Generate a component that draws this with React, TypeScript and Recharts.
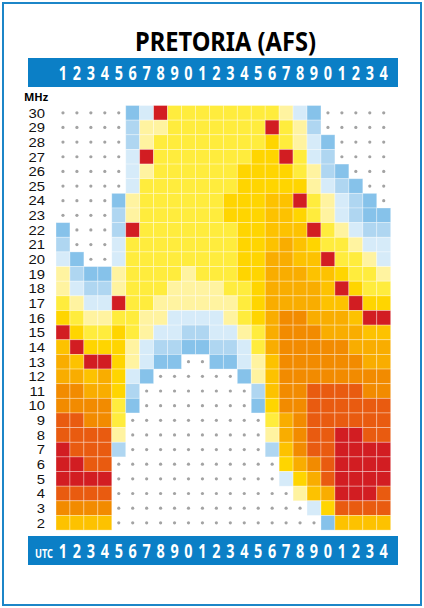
import React from 'react';
import { ScatterChart, Scatter, XAxis, YAxis, ReferenceLine } from 'recharts';

// UTC hours (columns) and their printed labels
const HOURS = [1, 2, 3, 4, 5, 6, 7, 8, 9, 10, 11, 12, 13, 14, 15, 16, 17, 18, 19, 20, 21, 22, 23, 24];
const HOUR_LABELS = ['1', '2', '3', '4', '5', '6', '7', '8', '9', '0', '1', '2', '3', '4', '5', '6', '7', '8', '9', '0', '1', '2', '3', '4'];
// Frequencies (rows), top to bottom
const MHZ = [30, 29, 28, 27, 26, 25, 24, 23, 22, 21, 20, 19, 18, 17, 16, 15, 14, 13, 12, 11, 10, 9, 8, 7, 6, 5, 4, 3, 2];

// Cell codes per row, hour 1..24 ('.' = no opening)
const BAND_HIGH = [
  '.....caryyyyyyyypac.....', // 30
  '.....bppyyyyyyyrypb.....', // 29
  '.....bpyyyyyyyygypac....', // 28
  '.....aryyyyyyyggryab....', // 27
  '.....apyyyyyyggggypbc...', // 26
  '.....ayyyyyyygggggpabc..', // 25
  '....cpyyyyyygggmmrypabc.', // 24
  '....bpyyyyyygggmmgypabcc', // 23
  'c...bryyyyyyyggmmmrypabb', // 22
  'b...ayyyyyyyyggmomgyypaa', // 21
];
const BAND_MID = [
  'ac..ayyyyyyyyggoommryypa', // 20
  'pbccpyyyypyyyggooommgyyp', // 19
  'pabbpyyyppppyygoooomrgyy', // 18
  'ypaaryyppppppygoooommrgg', // 17
  'gyppyyppaaaapygoOOooomrr', // 16
  'rgyygypaabbaapyoOOOooomm', // 15
  'mrgggpabbccbbayoOOOOOooo', // 14
  'omrrgpacc..ccapmOOOOOOoo', // 13
  'oomogac......cpmOOOOOOOO', // 12
  'OOoogb........bmOOeeeeOO', // 11
];
const BAND_LOW = [
  'OOOOyc........cgOOeeeeee', // 10
  'eeOOy..........yoOeeeeee', // 9
  'eeeep..........poOeerree', // 8
  'reeeb..........bmOeerrrr', // 7
  'rree............goOerrrr', // 6
  'rrrr............agoerrrr', // 5
  'eeee.............pmorrre', // 4
  'OOOO..............ageeee', // 3
  'mmmm...............cmmmm', // 2
];

const LEVEL_CODES = ['a', 'b', 'c', 'p', 'y', 'g', 'm', 'o', 'O', 'e', 'r'];
const LEVEL_COLORS = [
  '#d6ebf9', '#afd6f1', '#86c2ea', '#fff3a0', '#ffec3d', '#ffd500',
  '#fdc200', '#f9ad00', '#f28b00', '#e95b10', '#d21d22',
];

// Row boundaries drawn as white separators
const SEPARATORS = [28.5, 27.5, 25.5, 24.5, 22.5, 21.5, 19.5, 18.5, 16.5, 15.5, 13.5, 12.5, 10.5, 9.5, 7.5, 6.5, 4.5, 3.5];

const ROWS = [...BAND_HIGH, ...BAND_MID, ...BAND_LOW];
const DATA = ROWS.flatMap((row, ri) =>
  HOURS.map((h, ci) => ({ h, f: MHZ[ri], code: row[ci] }))
);

const W = 424;
const H = 608;
const PLOT_LEFT = 56;
const PLOT_RIGHT = 390.7;
const PLOT_TOP = 105.5;
const PLOT_BOTTOM = 530.1;
const CELL_W = (PLOT_RIGHT - PLOT_LEFT) / HOURS.length;
const CELL_H = (PLOT_BOTTOM - PLOT_TOP) / MHZ.length;
const BLUE = '#0b7fc6';
const FONT = "'Noto Sans', 'Open Sans', sans-serif";
const LABEL_FONT = "'Liberation Sans', Arial, sans-serif";

const CellShape = (props: any) => {
  const { cx, cy, payload } = props;
  if (cx == null || cy == null) return null;
  if (payload.code === '.') {
    return <circle cx={cx} cy={cy} r={1.6} fill="#a3a3a3" />;
  }
  const idx = LEVEL_CODES.indexOf(payload.code);
  return (
    <rect
      x={cx - CELL_W / 2}
      y={cy - CELL_H / 2}
      width={CELL_W}
      height={CELL_H}
      fill={LEVEL_COLORS[idx]}
      stroke="#ffffff"
      strokeOpacity={0.4}
      strokeWidth={0.8}
    />
  );
};

const NoShape = () => <g />;

const TopTick = (props: any) => {
  const { x, y, payload } = props;
  const i = HOURS.indexOf(payload.value);
  return (
    <g transform={`translate(${x},${y - 25.5})`}>
      <text transform="scale(0.74,1)" textAnchor="middle" fontFamily={FONT} fontWeight={700} fontSize={19.5} fill="#ffffff">
        {HOUR_LABELS[i]}
      </text>
    </g>
  );
};

const BottomTick = (props: any) => {
  const { x, y, payload } = props;
  const i = HOURS.indexOf(payload.value);
  return (
    <g transform={`translate(${x},${y + 27.6})`}>
      <text transform="scale(0.74,1)" textAnchor="middle" fontFamily={FONT} fontWeight={700} fontSize={19.5} fill="#ffffff">
        {HOUR_LABELS[i]}
      </text>
    </g>
  );
};

const LeftTick = (props: any) => {
  const { x, y, payload } = props;
  return (
    <g transform={`translate(${x - 11},${y + 4.8})`}>
      <text transform="scale(1.15,1)" textAnchor="end" fontFamily={LABEL_FONT} fontSize={12.9} fill="#111111">
        {payload.value}
      </text>
    </g>
  );
};

export default function App() {
  return (
    <div style={{ position: 'absolute', left: 0, top: 0, width: W, height: H, background: '#ffffff' }}>
      <svg width={W} height={H} style={{ position: 'absolute', left: 0, top: 0 }}>
        <rect x={3} y={3} width={418} height={602} fill="none" stroke="#1c86c8" strokeWidth={2} />
        <text x={225.5} y={51} textAnchor="middle" fontFamily={FONT} fontWeight={700} fontSize={26} fill="#000000" textLength={181} lengthAdjust="spacingAndGlyphs">
          PRETORIA (AFS)
        </text>
        <rect x={28} y={58} width={370} height={29} fill={BLUE} />
        <rect x={28} y={536} width={370} height={29} fill={BLUE} />
        <text x={24} y={101} fontFamily={FONT} fontWeight={700} fontSize={11} fill="#000000">MHz</text>
        <text x={35} y={557.7} fontFamily={FONT} fontWeight={700} fontSize={12.5} fill="#ffffff" textLength={18} lengthAdjust="spacingAndGlyphs">UTC</text>
      </svg>
      <div style={{ position: 'absolute', left: 0, top: 0 }}>
        <ScatterChart
          width={W}
          height={H}
          margin={{ top: PLOT_TOP - 20, right: W - PLOT_RIGHT, bottom: H - PLOT_BOTTOM - 20, left: PLOT_LEFT - 50 }}
        >
          <XAxis
            xAxisId="top"
            orientation="top"
            type="number"
            dataKey="h"
            domain={[0.5, 24.5]}
            ticks={HOURS}
            interval={0}
            height={20}
            axisLine={false}
            tickLine={false}
            tickSize={0}
            tickMargin={0}
            tick={<TopTick />}
          />
          <XAxis
            xAxisId="bottom"
            orientation="bottom"
            type="number"
            dataKey="h"
            domain={[0.5, 24.5]}
            ticks={HOURS}
            interval={0}
            height={20}
            axisLine={false}
            tickLine={false}
            tickSize={0}
            tickMargin={0}
            tick={<BottomTick />}
          />
          <YAxis
            type="number"
            dataKey="f"
            domain={[1.5, 30.5]}
            ticks={MHZ}
            interval={0}
            width={50}
            axisLine={false}
            tickLine={false}
            tickSize={0}
            tickMargin={0}
            tick={<LeftTick />}
          />
          <Scatter data={DATA} xAxisId="top" shape={<NoShape />} isAnimationActive={false} legendType="none" />
          <Scatter data={DATA} xAxisId="bottom" shape={<CellShape />} isAnimationActive={false} />
          {SEPARATORS.map((v) => (
            <ReferenceLine key={v} y={v} xAxisId="bottom" stroke="#ffffff" strokeWidth={1.6} />
          ))}
        </ScatterChart>
      </div>
    </div>
  );
}
